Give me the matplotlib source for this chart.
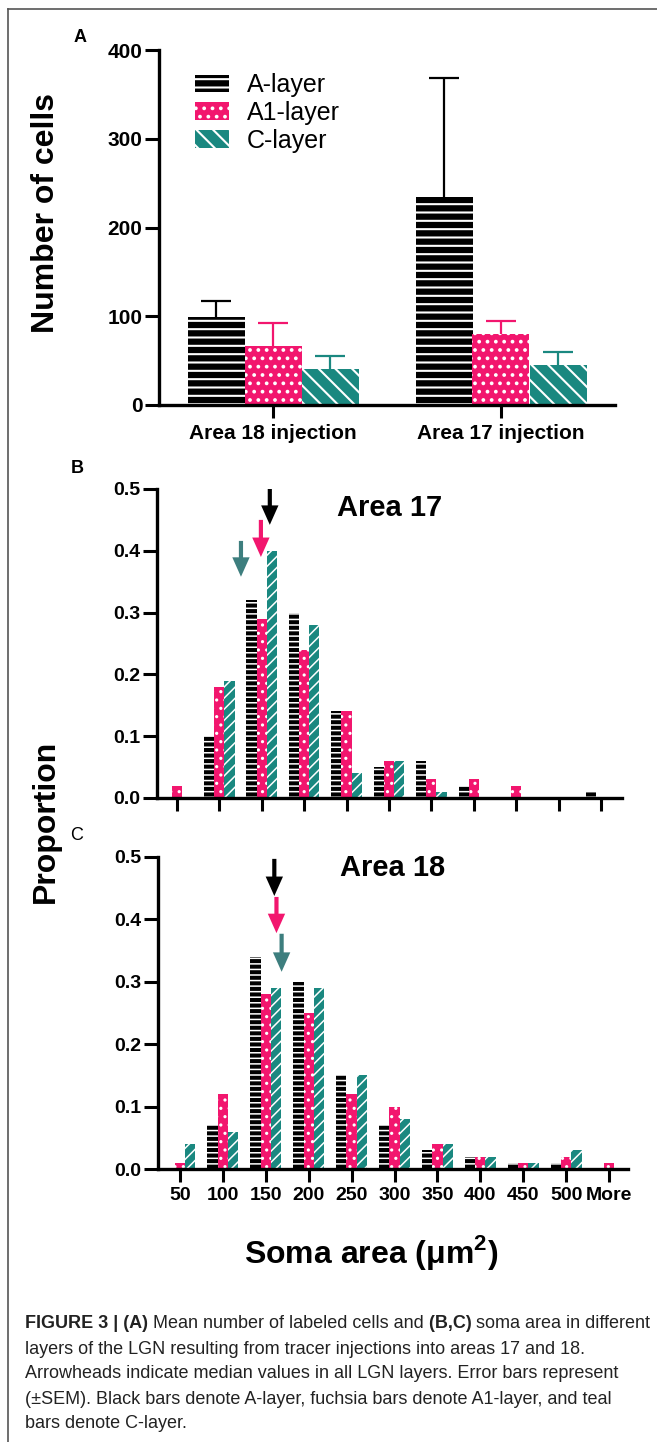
import matplotlib
matplotlib.use('Agg')
import numpy as np
import matplotlib.pyplot as plt
from matplotlib.patches import Patch, FancyArrowPatch
from matplotlib.lines import Line2D

plt.rcParams['font.family'] = ['Liberation Sans', 'DejaVu Sans']
plt.rcParams['mathtext.fontset'] = 'custom'
plt.rcParams['mathtext.rm'] = 'Liberation Sans'
plt.rcParams['mathtext.bf'] = 'Liberation Sans:bold'
plt.rcParams['hatch.linewidth'] = 1.5

# ---- data ----
layers = ['A-layer', 'A1-layer', 'C-layer']
injections = ['Area 18 injection', 'Area 17 injection']

# panel A: mean number of labeled cells and +SEM
a_cells = [99, 234]
a1_cells = [66, 80]
c_cells = [41, 45]
a_sem = [18, 134]
a1_sem = [26, 15]
c_sem = [14, 15]

# panels B/C: soma area distribution
bins = ['50', '100', '150', '200', '250', '300', '350', '400', '450', '500', 'More']
a17_a = [0, 0.10, 0.32, 0.30, 0.14, 0.05, 0.06, 0.02, 0, 0, 0.01]
a17_a1 = [0.02, 0.18, 0.29, 0.24, 0.14, 0.06, 0.03, 0.03, 0.02, 0, 0]
a17_c = [0, 0.19, 0.40, 0.28, 0.04, 0.06, 0.01, 0, 0, 0, 0]

a18_a = [0, 0.07, 0.34, 0.30, 0.15, 0.07, 0.03, 0.02, 0.01, 0.01, 0]
a18_a1 = [0.01, 0.12, 0.28, 0.25, 0.12, 0.10, 0.04, 0.02, 0.01, 0.02, 0.01]
a18_c = [0.04, 0.06, 0.29, 0.29, 0.15, 0.08, 0.04, 0.02, 0.01, 0.03, 0]

# median arrowheads (position on the bin axis) for A, A1, C
a17_median = [2.19, 1.98, 1.51]
a18_median = [2.20, 2.25, 2.37]

# ---- style ----
BLACK = '#000000'
PINK = '#f2166e'
TEAL = '#1a8880'
TEAL_ARROW = '#3d7e7e'
colors = [BLACK, PINK, TEAL]

W, H = 657, 1442
fig = plt.figure(figsize=(W / 100, H / 100), dpi=100)


def fx(px):
    return px / W


def fy(py):
    return 1 - py / H


def style_axes(ax, xtick_len=9):
    for s in ['top', 'right']:
        ax.spines[s].set_visible(False)
    for s in ['left', 'bottom']:
        ax.spines[s].set_linewidth(2.4)
    ax.tick_params(axis='y', width=2.2, length=10, pad=2, labelsize=14)
    ax.tick_params(axis='x', width=2.2, length=xtick_len, labelsize=14)
    for lab in ax.get_xticklabels() + ax.get_yticklabels():
        lab.set_fontweight('bold')


# ---- panel A ----
axA = fig.add_axes([fx(159), fy(405), fx(615) - fx(159), (405 - 50) / H])
x = np.arange(len(injections))
w = 0.25
hatchA = ['--', '..', '\\\\']
for i, (vals, sems) in enumerate([(a_cells, a_sem), (a1_cells, a1_sem), (c_cells, c_sem)]):
    xs = x + (i - 1) * w
    axA.bar(xs, vals, width=w, color=colors[i], edgecolor='white', hatch=hatchA[i], linewidth=0)
    eb = axA.errorbar(xs, vals, yerr=[np.zeros(len(vals)), sems], fmt='none',
                      ecolor=colors[i], elinewidth=1.6, capsize=10.5, capthick=1.6)
    eb[1][0].set_visible(False)  # no cap at the bar top
axA.set_xlim(-0.5, 1.5)
axA.set_ylim(0, 400)
axA.set_yticks([0, 100, 200, 300, 400])
axA.set_xticks(x)
axA.set_xticklabels(injections)
style_axes(axA)
axA.tick_params(axis='x', pad=5, labelsize=15)
axA.tick_params(axis='y', labelsize=15)
for lab in axA.get_xticklabels() + axA.get_yticklabels():
    lab.set_fontweight('bold')

handles = [Patch(facecolor=colors[i], edgecolor='white', hatch=hatchA[i], linewidth=0) for i in range(3)]
axA.legend(handles, layers, loc='upper left', bbox_to_anchor=(0.08, 0.935), frameon=False,
           fontsize=18, handlelength=1.35, handleheight=0.7, handletextpad=0.7,
           labelspacing=0.15, borderaxespad=0, borderpad=0)

fig.text(fx(46), fy(213), 'Number of cells', rotation=90, ha='center', va='center',
         fontsize=23, fontweight='bold')
fig.text(fx(80), fy(37), 'A', ha='center', va='center', fontsize=13, fontweight='bold')


# ---- panels B and C ----
def hist_panel(rect, xlim, a, a1, c, medians, arrow_y, title, title_y, show_labels):
    ax = fig.add_axes(rect)
    xb = np.arange(len(bins))
    bw = 0.24
    hatches = ['---', '..', '///']
    with plt.rc_context({'hatch.linewidth': 1.1}):
        for i, vals in enumerate([a, a1, c]):
            ax.bar(xb + (i - 1) * bw, vals, width=bw, color=colors[i], edgecolor='white',
                   hatch=hatches[i], linewidth=0)
    arrow_colors = [BLACK, PINK, TEAL_ARROW]
    for i in range(3):
        top, tip = arrow_y[i]
        arr = FancyArrowPatch((medians[i], top), (medians[i], tip),
                              arrowstyle='simple,head_width=1.25,head_length=1.4,tail_width=0.3',
                              mutation_scale=10, color=arrow_colors[i], linewidth=0,
                              shrinkA=0, shrinkB=0)
        ax.add_patch(arr)
    ax.set_xlim(*xlim)
    ax.set_ylim(0, 0.5)
    ax.set_yticks([0.0, 0.1, 0.2, 0.3, 0.4, 0.5])
    ax.set_yticklabels(['0.0', '0.1', '0.2', '0.3', '0.4', '0.5'])
    ax.set_xticks(xb)
    if show_labels:
        ax.set_xticklabels(bins)
    else:
        ax.set_xticklabels([])
    style_axes(ax)
    ax.tick_params(axis='x', pad=4)
    ax.text(0.5, title_y, title, transform=ax.transAxes, ha='center', va='center',
            fontsize=21, fontweight='bold')
    return ax


axB = hist_panel([fx(157), fy(798), fx(622) - fx(157), (798 - 489) / H], (-0.47, 10.495),
                 a17_a, a17_a1, a17_c, a17_median,
                 [(0.5, 0.442), (0.45, 0.39), (0.416, 0.358)], 'Area 17', 0.94, False)
axC = hist_panel([fx(158), fy(1169), fx(628) - fx(158), (1169 - 857) / H], (-0.51, 10.44),
                 a18_a, a18_a1, a18_c, a18_median,
                 [(0.497, 0.4375), (0.436, 0.378), (0.377, 0.316)], 'Area 18', 0.965, True)

fig.text(fx(77), fy(468), 'B', ha='center', va='center', fontsize=13, fontweight='bold')
fig.text(fx(77), fy(835), 'C', ha='center', va='center', fontsize=13)
fig.text(fx(46), fy(821), 'Proportion', rotation=90, ha='center', va='center',
         fontsize=23, fontweight='bold')
fig.text(fx(371), fy(1252), 'Soma area (\u03bcm$^{\\mathbf{2}}$)', ha='center', va='center',
         fontsize=23, fontweight='bold')

# ---- caption ----
caption = [
    [('FIGURE 3 | (A)', 'bold'), (' Mean number of labeled cells and', 'normal'),
     (' (B,C)', 'bold'), (' soma area in different', 'normal')],
    [('layers of the LGN resulting from tracer injections into areas 17 and 18.', 'normal')],
    [('Arrowheads indicate median values in all LGN layers. Error bars represent', 'normal')],
    [('(\u00b1SEM). Black bars denote A-layer, fuchsia bars denote A1-layer, and teal', 'normal')],
    [('bars denote C-layer.', 'normal')],
]
renderer = fig.canvas.get_renderer()
for k, parts in enumerate(caption):
    xpos = fx(25)
    ypos = fy(1324 + 25 * k)
    for txt, wt in parts:
        t = fig.text(xpos, ypos, txt, ha='left', va='center', fontsize=13, fontweight=wt,
                     color='#222222')
        bb = t.get_window_extent(renderer)
        xpos = fig.transFigure.inverted().transform((bb.x1, bb.y0))[0]

# figure frame (left and top)
fig.add_artist(Line2D([fx(8), fx(8)], [fy(9), 0], transform=fig.transFigure, color='#555555', lw=1.2))
fig.add_artist(Line2D([fx(8), 1], [fy(9), fy(9)], transform=fig.transFigure, color='#555555', lw=1.2))

fig.savefig('out.png', dpi=100)
